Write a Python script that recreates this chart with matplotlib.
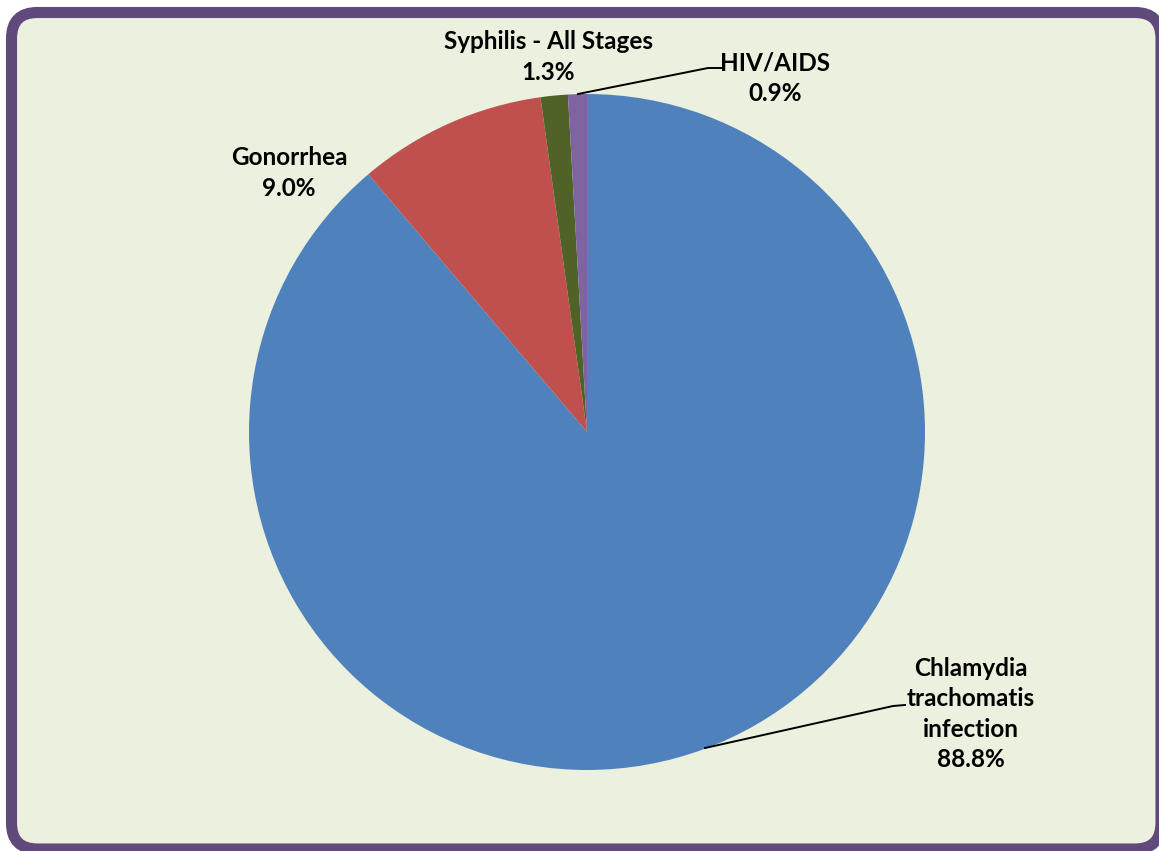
import numpy as np
import matplotlib.pyplot as plt
from matplotlib.patches import FancyBboxPatch

categories = ['Chlamydia\ntrachomatis\ninfection', 'Gonorrhea',
              'Syphilis - All Stages', 'HIV/AIDS']
shares = [88.8, 9.0, 1.3, 0.9]
colors = ['#4F81BD', '#C0504D', '#4F6228', '#8064A2']

W, H = 1159, 851


def main():
    fig = plt.figure(figsize=(W / 100, H / 100), dpi=100)
    fig.patch.set_facecolor('white')

    ax = fig.add_axes([0, 0, 1, 1])
    ax.set_xlim(0, W)
    ax.set_ylim(0, H)
    ax.set_aspect('equal')
    ax.patch.set_alpha(0)

    # rounded frame (cut off at right and bottom like the original)
    frame = FancyBboxPatch((11.5, 2), 1149.5, 836.5,
                           boxstyle='round,pad=0,rounding_size=26',
                           facecolor='#EBF1DE', edgecolor='#604A7B',
                           linewidth=8, zorder=0, clip_on=False)
    ax.add_patch(frame)

    cx, cy, r = 587, H - 432, 338
    wedges, _ = ax.pie(shares, colors=colors, startangle=90,
                       counterclock=False, center=(cx, cy), radius=r,
                       frame=True, wedgeprops=dict(linewidth=0))
    for w in wedges:
        w.set_zorder(2)
    ax.set_xlim(0, W)
    ax.set_ylim(0, H)
    ax.axis('off')

    font = dict(family=['Lato', 'DejaVu Sans'], fontweight='bold',
                fontsize=17.5, ha='center', va='center',
                linespacing=1.4, zorder=3)
    label_pos = [(971, 714), (289, 173), (548, 57), (775, 78)]
    for name, val, (x, y) in zip(categories, shares, label_pos):
        ax.text(x, H - y, f'{name}\n{val:.1f}%', **font)

    # leader lines
    ax.plot([705, 893, 905], [H - 748, H - 706, H - 705],
            color='black', lw=1.4, zorder=3)
    ax.plot([578, 708, 721], [H - 94, H - 68, H - 68],
            color='black', lw=1.4, zorder=3)

    fig.savefig('out.png', dpi=100)


if __name__ == "__main__":
    main()
